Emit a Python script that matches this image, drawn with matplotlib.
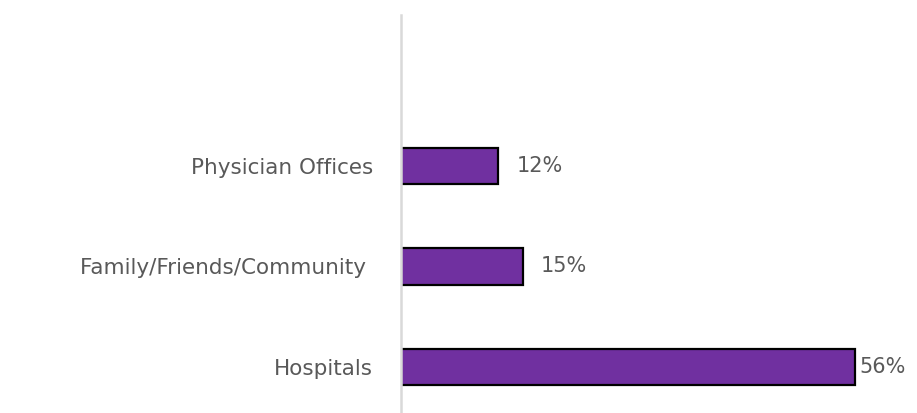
import matplotlib.pyplot as plt

# data (bottom to top), empty top slot as in the original
categories = ["Hospitals", "Family/Friends/Community ", "Physician Offices", ""]
values = [56, 15, 12, None]
labels = ["56%", "15%", "12%", ""]

W, H = 917, 413
fig = plt.figure(figsize=(W / 100, H / 100), dpi=100)
ax = fig.add_axes([401 / W, -4.25 / H, (W - 401) / W, 402 / H])

pos = list(range(len(categories)))
vals = [v if v is not None else 0 for v in values]
bars = ax.barh(pos, vals, height=0.36, color="#7030A0", edgecolor="black", linewidth=1.6)
bars[-1].set_visible(False)

ax.set_xlim(0, 63.65)
ax.set_ylim(-0.5, 3.5)
ax.set_yticks(pos)
ax.set_yticklabels(categories, fontsize=15.5, color="#595959")
ax.tick_params(axis="y", length=0, pad=20)
ax.set_xticks([])

for s in ["top", "right", "bottom"]:
    ax.spines[s].set_visible(False)
ax.spines["left"].set_color("#D9D9D9")
ax.spines["left"].set_linewidth(1.8)

# label offsets in points
offsets = [3, 13, 13]
for p, v, lab, off in zip(pos, values, labels, offsets):
    ax.annotate(lab, (v, p), xytext=(off, 0), textcoords="offset points",
                va="center", ha="left", fontsize=15, color="#595959")

fig.savefig("out.png", dpi=100)
